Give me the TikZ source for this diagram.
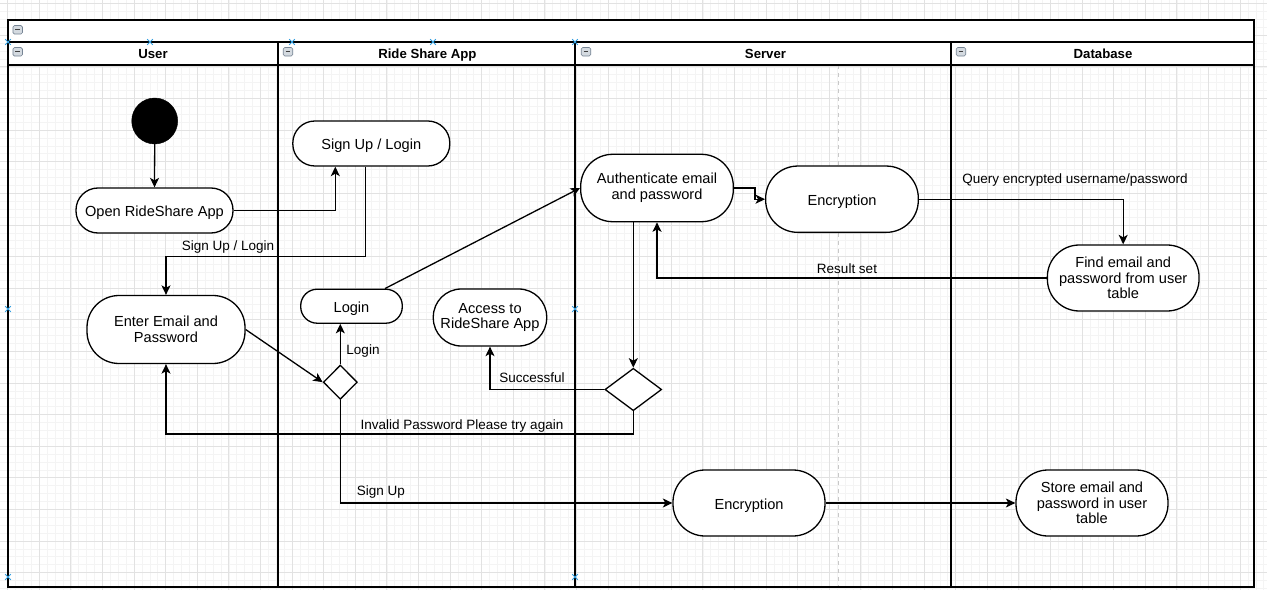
\documentclass[tikz,border=0pt]{standalone}
\usepackage{fontspec}
\setmainfont{Liberation Sans}
\usetikzlibrary{arrows.meta,shapes.geometric}
\definecolor{gmaj}{RGB}{226,226,226}
\definecolor{gmin}{RGB}{244,244,244}
\definecolor{iconfill}{RGB}{212,218,224}
\definecolor{icondraw}{RGB}{118,132,148}
\definecolor{selblue}{RGB}{52,160,225}
\definecolor{pagebrk}{RGB}{200,200,200}
\newcommand\actfont{\fontsize{14.6}{15.7}\selectfont}
\newcommand\lblfont{\fontsize{13.5}{15}\selectfont}
\newcommand\hdrfont{\fontsize{13.2}{15}\selectfont\bfseries}
\begin{document}
\begin{tikzpicture}[x=1pt,y=-1pt,
  act/.style={draw=black, line width=1.3pt, rounded corners=#1, fill=white,
    inner sep=0pt, align=center, font=\actfont},
  oneline/.style={text height=12.6pt, text depth=0pt},
  dec/.style={diamond, draw=black, line width=1.3pt, fill=white, inner sep=0pt},
  startnode/.style={circle, fill=black, draw=black, inner sep=0pt, minimum size=46pt},
  flow/.style={line width=1.3pt, -{Stealth[length=9.5pt,width=9pt,inset=2.5pt]}},
  lbl/.style={inner sep=0pt, font=\lblfont, text height=0.72em, text depth=0.2em},
  hdr/.style={inner sep=0pt, font=\hdrfont, text height=0.72em, text depth=0.2em},
  icon/.style={draw=icondraw, fill=iconfill, line width=0.6pt, rounded corners=1.5pt,
    inner sep=0pt, minimum width=9.5pt, minimum height=8.5pt,
    path picture={\draw[line width=1.3pt, black!75]
      ([xshift=2.3pt]path picture bounding box.west) --
      ([xshift=-2.3pt]path picture bounding box.east);}},
  gridmin/.style={draw=gmin, line width=0.8pt},
  gridmaj/.style={draw=gmaj, line width=1pt},
  poolline/.style={draw=black, line width=1.5pt},
  bmark/.style={draw=selblue, line width=1pt}
]
\useasboundingbox (0,0) rectangle (1267,607);
\fill[white] (0,0) rectangle (1267,607);
% background grid
\foreach \i in {-1,...,160} {\draw[gridmin] ({7.7+7.9*\i},0) -- ({7.7+7.9*\i},590);}
\foreach \j in {0,...,74} {\draw[gridmin] (0,{3.8+7.9*\j}) -- (1267,{3.8+7.9*\j});}
\foreach \i in {0,...,40} {\draw[gridmaj] ({7.7+31.6*\i},0) -- ({7.7+31.6*\i},590);}
\foreach \j in {0,...,18} {\draw[gridmaj] (0,{3.8+31.6*\j}) -- (1267,{3.8+31.6*\j});}
% pool and lanes
\fill[white] (8,20) rectangle (1254,65);
\draw[pagebrk, line width=0.8pt, dash pattern=on 4pt off 4pt] (838,65) -- (838,587);
\draw[poolline] (8,20) rectangle (1254,587);
\draw[poolline] (8,42) -- (1254,42);
\draw[poolline] (8,65) -- (1254,65);
\draw[poolline] (278,42) -- (278,587);
\draw[poolline] (575,42) -- (575,587);
\draw[poolline] (951,42) -- (951,587);
\draw[draw=black, line width=2.8pt] (7,587) -- (1255,587);
% collapse icons
\node[icon] (ic0) at (17.7,29.8) {};
\node[icon] (ic1) at (17.7,51.8) {};
\node[icon] (ic2) at (288,51.8) {};
\node[icon] (ic3) at (586,51.8) {};
\node[icon] (ic4) at (961,51.8) {};
% headers
\node[hdr] (hu) at (153,56) {User};
\node[hdr] (hr) at (427.4,56) {Ride Share App};
\node[hdr] (hs) at (765.5,56) {Server};
\node[hdr] (hd) at (1103,56) {Database};
% selection marks
\foreach \a/\b in {8/42, 150/42, 292/42, 433/42, 575/42, 8/309, 575/309, 8/577, 575/577}
  {\draw[bmark] (\a-2.8,\b-2.8) -- (\a+2.8,\b+2.8) (\a-2.8,\b+2.8) -- (\a+2.8,\b-2.8);}
% nodes
\node[startnode] (start) at (154.7,121) {};
\node[act=22pt, oneline, minimum width=157pt, minimum height=45pt] (open) at (154.5,210.5) {Open RideShare App};
\node[act=22pt, oneline, minimum width=157pt, minimum height=45pt] (signup) at (371.3,143.5) {Sign Up / Login};
\node[act=32pt, minimum width=158pt, minimum height=68pt] (enter) at (166,329.5) {Enter Email and\\Password};
\node[act=16.5pt, oneline, minimum width=101.6pt, minimum height=34pt] (login) at (351.5,306.2) {Login};
\node[act=28pt, minimum width=113.4pt, minimum height=57pt] (access) at (490,317.5) {Access to\\RideShare App};
\node[act=32pt, minimum width=152.6pt, minimum height=67.4pt] (auth) at (657,188) {Authenticate email\\and password};
\node[act=32pt, oneline, minimum width=152.6pt, minimum height=66.3pt] (enc1) at (842,199.2) {Encryption};
\node[act=32pt, minimum width=151.7pt, minimum height=66pt] (find) at (1123.2,278) {Find email and\\password from user\\table};
\node[act=32pt, oneline, minimum width=152pt, minimum height=66pt] (enc2) at (749,503) {Encryption};
\node[act=32pt, minimum width=152pt, minimum height=66pt] (store) at (1092,503) {Store email and\\password in user\\table};
\node[dec, minimum width=34pt, minimum height=34.3pt] (d1) at (340.3,382.2) {};
\node[dec, minimum width=56.7pt, minimum height=42.4pt] (d2) at (633.3,389.5) {};
% connectors
\draw[flow] (start.south) -- (open.north);
\draw[flow] (open.east) -| ([xshift=-36pt]signup.south);
\draw[flow] ([xshift=-6pt]signup.south) -- ++(0,89.5) -| (enter.north);
\draw[flow] (enter.east) -- (d1.west);
\draw[flow] (d1.north) -- (login.south -| d1.north);
\draw[flow] ([xshift=33.5pt]login.north) -- (auth.west);
\draw[flow] (auth.east) -- ++(21,0) |- (enc1.west);
\draw[flow] (enc1.east) -| (find.north);
\draw[flow] (find.west) -| (auth.south);
\draw[flow] (auth.south -| d2.north) -- (d2.north);
\draw[flow] (d2.west) -| (access.south);
\draw[flow] (d2.south) -- ++(0,22.5) -| (enter.south);
\draw[flow] (d1.south) |- (enc2.west);
\draw[flow] (enc2.east) -- (store.west);
% connector labels
\node[lbl] (l1) at (228,247.5) {Sign Up / Login};
\node[lbl] (l2) at (363,351.5) {Login};
\node[lbl] (l3) at (532,379.5) {Successful};
\node[lbl] (l4) at (462,426.5) {Invalid Password Please try again};
\node[lbl] (l5) at (381,492.5) {Sign Up};
\node[lbl] (l6) at (1075,180.5) {Query encrypted username/password};
\node[lbl] (l7) at (847,270.5) {Result set};
\end{tikzpicture}
\end{document}
